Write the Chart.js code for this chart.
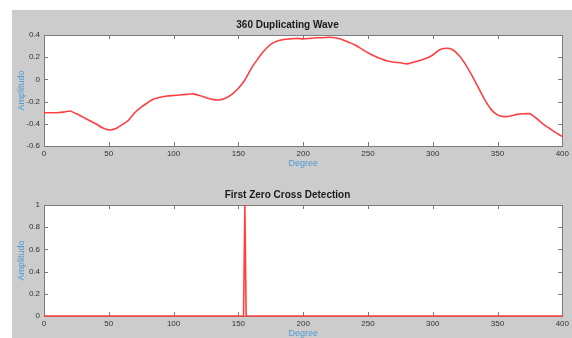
<!DOCTYPE html>
<html>
<head>
<meta charset="utf-8">
<script src="https://cdn.jsdelivr.net/npm/chart.js@4.4.0/dist/chart.umd.min.js"></script>
<style>
  html, body { margin: 0; padding: 0; background: #fff; }
  #panel { position: absolute; left: 12px; top: 10px; width: 560px; height: 328px; background: #cccccc; overflow: hidden; }
  .box { position: absolute; left: 0; width: 560px; height: 160px; }
</style>
</head>
<body>
<div id="panel">
  <div class="box" style="top:0"><canvas id="waveChart" width="560" height="160"></canvas></div>
  <div class="box" style="top:170px"><canvas id="zeroChart" width="560" height="160"></canvas></div>
</div>
<script>
// Degree positions of the sampled wave
const waveDegrees = [0, 5, 10, 15, 20, 25, 30, 35, 40, 45, 50, 55, 60, 65, 70, 75, 80, 85, 90, 95,
  100, 105, 110, 115, 120, 125, 130, 135, 140, 145, 150, 155, 160, 165, 170, 175, 180, 185, 190, 195,
  200, 205, 210, 215, 220, 225, 230, 235, 240, 245, 250, 255, 260, 265, 270, 275, 280, 285, 290, 295,
  300, 305, 310, 315, 320, 325, 330, 335, 340, 345, 350, 355, 360, 365, 370, 375, 380, 385, 390, 395, 400];

const waveAmplitude = [-0.30, -0.30, -0.30, -0.295, -0.285, -0.31, -0.34, -0.37, -0.40, -0.435,
  -0.455, -0.445, -0.41, -0.37, -0.30, -0.25, -0.21, -0.175, -0.16, -0.15,
  -0.145, -0.14, -0.135, -0.13, -0.145, -0.165, -0.18, -0.185, -0.17, -0.135,
  -0.08, -0.005, 0.10, 0.185, 0.26, 0.315, 0.345, 0.36, 0.365, 0.37,
  0.365, 0.37, 0.375, 0.375, 0.38, 0.375, 0.36, 0.335, 0.31, 0.275,
  0.24, 0.21, 0.185, 0.165, 0.155, 0.15, 0.14, 0.155, 0.17, 0.19,
  0.22, 0.265, 0.28, 0.27, 0.22, 0.14, 0.04, -0.07, -0.18, -0.27,
  -0.32, -0.335, -0.33, -0.315, -0.31, -0.31, -0.35, -0.40, -0.44, -0.48, -0.515];

// First zero cross detection (single pulse)
const zeroDegrees = [0, 154, 155, 156, 400];
const zeroValues = [0, 0, 1, 0, 0];

const waveTicks = { min: -0.6, max: 0.4, step: 0.2 };
const zeroTicks = { min: 0, max: 1, step: 0.2 };
const degreeTicks = { min: 0, max: 400, step: 50 };

const labelBlue = '#4f9bd3';
const lineRed = 'rgb(255, 64, 64)';
const fontFamily = 'Liberation Sans, Arial, sans-serif';

// MATLAB style box with inward ticks on all four sides
const boxTicks = {
  id: 'boxTicks',
  beforeDatasetsDraw(chart) {
    const { ctx, chartArea: a, scales } = chart;
    ctx.save();
    ctx.fillStyle = '#ffffff';
    ctx.fillRect(a.left, a.top, a.right - a.left, a.bottom - a.top);
    ctx.strokeStyle = '#7a7a7a';
    ctx.lineWidth = 1;
    const len = 4;
    ctx.beginPath();
    scales.x.ticks.forEach(t => {
      const px = Math.round(scales.x.getPixelForValue(t.value)) + 0.5;
      ctx.moveTo(px, a.bottom); ctx.lineTo(px, a.bottom - len);
      ctx.moveTo(px, a.top); ctx.lineTo(px, a.top + len);
    });
    scales.y.ticks.forEach(t => {
      const py = Math.round(scales.y.getPixelForValue(t.value)) + 0.5;
      ctx.moveTo(a.left, py); ctx.lineTo(a.left + len, py);
      ctx.moveTo(a.right, py); ctx.lineTo(a.right - len, py);
    });
    ctx.stroke();
    ctx.strokeRect(Math.round(a.left) + 0.5, Math.round(a.top) + 0.5,
      Math.round(a.right - a.left), Math.round(a.bottom - a.top));
    ctx.restore();
  }
};

function makeChart(canvasId, title, xs, ys, yTicks, tension) {
  const points = xs.map((x, i) => ({ x: x, y: ys[i] }));
  return new Chart(document.getElementById(canvasId), {
    type: 'line',
    data: {
      datasets: [{
        data: points,
        borderColor: lineRed,
        borderWidth: 1.6,
        pointRadius: 0,
        tension: tension,
        fill: false,
        clip: 3
      }]
    },
    options: {
      responsive: false,
      animation: false,
      layout: { padding: { left: 0, right: 9, top: 0, bottom: 0 } },
      plugins: {
        legend: { display: false },
        tooltip: { enabled: false },
        title: {
          display: true,
          text: title,
          color: '#1a1a1a',
          font: { family: fontFamily, size: 10, weight: 'bold', lineHeight: 1.2 },
          padding: { top: 9, bottom: 4 }
        }
      },
      scales: {
        x: {
          type: 'linear',
          min: degreeTicks.min,
          max: degreeTicks.max,
          ticks: {
            stepSize: degreeTicks.step,
            color: '#333',
            padding: 3,
            font: { family: fontFamily, size: 8 }
          },
          grid: { display: false, drawTicks: false },
          border: { display: false },
          title: {
            display: true,
            text: 'Degree',
            color: labelBlue,
            font: { family: fontFamily, size: 9, lineHeight: 1.2 },
            padding: { top: 0, bottom: 1 }
          },
          afterFit(scale) { scale.height = 24; }
        },
        y: {
          type: 'linear',
          min: yTicks.min,
          max: yTicks.max,
          ticks: {
            stepSize: yTicks.step,
            color: '#333',
            padding: 4,
            font: { family: fontFamily, size: 8 },
            callback: v => String(Math.round(v * 100) / 100)
          },
          grid: { display: false, drawTicks: false },
          border: { display: false },
          title: {
            display: true,
            text: 'Amplitudo',
            color: labelBlue,
            font: { family: fontFamily, size: 9, lineHeight: 1.2 },
            padding: { top: 4.3, bottom: 0 }
          },
          afterFit(scale) { scale.width = 32; }
        }
      }
    },
    plugins: [boxTicks]
  });
}

makeChart('waveChart', '360 Duplicating Wave', waveDegrees, waveAmplitude, waveTicks, 0.2);
makeChart('zeroChart', 'First Zero Cross Detection', zeroDegrees, zeroValues, zeroTicks, 0);
</script>
</body>
</html>
